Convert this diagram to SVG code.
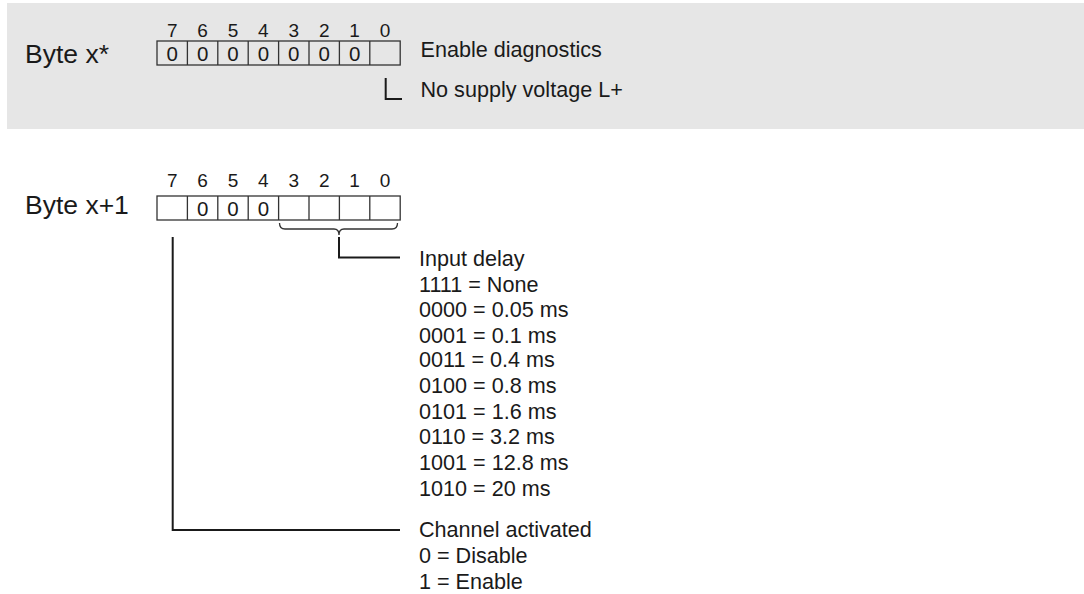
<svg xmlns="http://www.w3.org/2000/svg" width="1084" height="594" viewBox="0 0 1084 594">
<style>
.t{font-family:"Liberation Sans",Arial,sans-serif;fill:#1a1a1a}
.lbl{font-size:21.6px}
.byte{font-size:26.5px}
.bit{font-size:19px;text-anchor:middle}
.val{font-size:20.5px;text-anchor:middle}
.box{fill:none;stroke:#333;stroke-width:1.3}
.ln{fill:none;stroke:#1a1a1a;stroke-width:2}
</style>
<rect x="7" y="3" width="1077" height="126" fill="#e6e6e6"/>

<g id="byte0">
<text class="t byte" x="25" y="63">Byte x*</text>
<g class="t bit">
<text x="172.2" y="37">7</text><text x="202.6" y="37">6</text><text x="233" y="37">5</text><text x="263.4" y="37">4</text><text x="293.8" y="37">3</text><text x="324.2" y="37">2</text><text x="354.6" y="37">1</text><text x="385" y="37">0</text>
</g>
<rect class="box" x="157" y="41" width="243.2" height="24"/>
<path class="box" d="M187.4 41V65M217.8 41V65M248.2 41V65M278.6 41V65M309 41V65M339.4 41V65M369.8 41V65"/>
<g class="t val">
<text x="172.2" y="60.5">0</text><text x="202.6" y="60.5">0</text><text x="233" y="60.5">0</text><text x="263.4" y="60.5">0</text><text x="293.8" y="60.5">0</text><text x="324.2" y="60.5">0</text><text x="354.6" y="60.5">0</text>
</g>
</g>

<g id="byte1">
<text class="t byte" x="25" y="214">Byte x+1</text>
<g class="t bit">
<text x="172.2" y="187">7</text><text x="202.6" y="187">6</text><text x="233" y="187">5</text><text x="263.4" y="187">4</text><text x="293.8" y="187">3</text><text x="324.2" y="187">2</text><text x="354.6" y="187">1</text><text x="385" y="187">0</text>
</g>
<rect class="box" x="157" y="196" width="243.2" height="24"/>
<path class="box" d="M187.4 196V220M217.8 196V220M248.2 196V220M278.6 196V220M309 196V220M339.4 196V220M369.8 196V220"/>
<g class="t val">
<text x="202.6" y="215.5">0</text><text x="233" y="215.5">0</text><text x="263.4" y="215.5">0</text>
</g>
</g>

<g id="connectors">
<path class="ln" d="M385.7 78V99H402"/>
<path class="box" d="M279.5 223Q279.5 229 285 229H334Q339 229 339 235Q339 229 344 229H392Q397.5 229 397.5 223"/>
<path class="ln" d="M339 237V257.5H400"/>
<path class="ln" d="M172.7 237V530H400"/>
</g>

<g id="diag-labels" class="t lbl">
<text x="420.5" y="57">Enable diagnostics</text>
<text x="420.5" y="97">No supply voltage L+</text>
</g>

<g id="input-delay" class="t lbl">
<text x="419" y="266">Input delay</text>
<text x="419" y="291.7">1111 = None</text>
<text x="419" y="317.3">0000 = 0.05 ms</text>
<text x="419" y="342.7">0001 = 0.1 ms</text>
<text x="419" y="367.3">0011 = 0.4 ms</text>
<text x="419" y="393.3">0100 = 0.8 ms</text>
<text x="419" y="419">0101 = 1.6 ms</text>
<text x="419" y="444.3">0110 = 3.2 ms</text>
<text x="419" y="470">1001 = 12.8 ms</text>
<text x="419" y="495.7">1010 = 20 ms</text>
</g>

<g id="channel" class="t lbl">
<text x="419" y="536.7">Channel activated</text>
<text x="419" y="562.7">0 = Disable</text>
<text x="419" y="589.3">1 = Enable</text>
</g>
</svg>
